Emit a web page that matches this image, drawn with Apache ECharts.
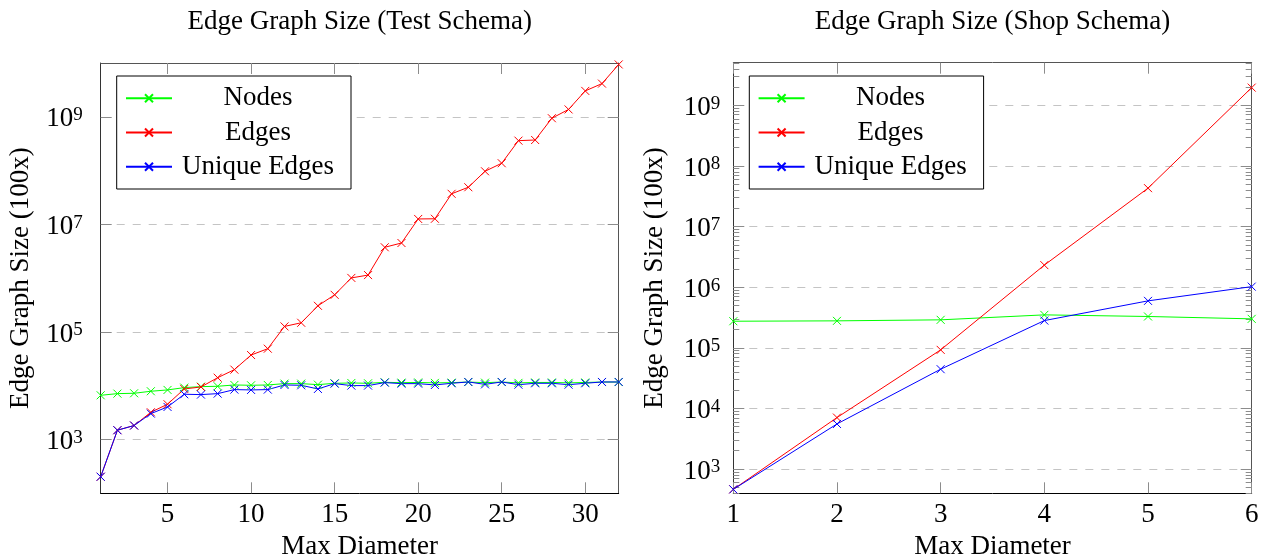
<!DOCTYPE html>
<html>
<head>
<meta charset="utf-8">
<title>Edge Graph Size</title>
<script src="https://cdn.jsdelivr.net/npm/echarts@6.0.0/dist/echarts.min.js"></script>
<style>
  html, body { margin: 0; padding: 0; background: #fff; }
  #chart { width: 1271px; height: 560px; }
</style>
</head>
<body>
<div id="chart"></div>
<script>
// --- data: Test Schema (left) ---
const diameterTest = [1, 2, 3, 4, 5, 6, 7, 8, 9, 10, 11, 12, 13, 14, 15, 16,
  17, 18, 19, 20, 21, 22, 23, 24, 25, 26, 27, 28, 29, 30, 31, 32]
const nodesTest = [6640, 7130, 7240, 7890, 8350, 9220, 9620, 9770, 10330, 10190, 10330,
  10940, 10940, 10470, 11100, 11250, 11100, 11580, 11400, 11500, 11300, 11400, 11700,
  11400, 11700, 11300, 11500, 11500, 11300, 11500, 11700, 11700]
const edgesTest = [203, 1490, 1820, 3210, 4530, 8710, 9480, 14100, 19900, 37200, 48800,
  126700, 148000, 306000, 490000, 1.01e6, 1.14e6, 3.75e6, 4.5e6, 1.26e7, 1.27e7, 3.7e7,
  4.9e7, 9.7e7, 1.37e8, 3.6e8, 3.7e8, 9.4e8, 1.37e9, 3.03e9, 4.14e9, 9.4e9]
const uniqueTest = [203, 1490, 1820, 3030, 4030, 6940, 6840, 7130, 8470, 8350, 8470,
  10330, 10190, 8710, 10940, 10050, 10050, 11420, 10940, 10940, 10330, 11100, 11750,
  10600, 11750, 10450, 11100, 11100, 10450, 11100, 11750, 11750]

// --- data: Shop Schema (right) ---
const diameterShop = [1, 2, 3, 4, 5, 6]
const nodesShop = [274000, 278000, 289000, 349000, 328000, 300000]
const edgesShop = [461, 7050, 92300, 2.31e6, 4.3e7, 1.96e9]
const uniqueShop = [461, 5530, 44300, 281000, 594000, 1.02e6]

// --- ticks ---
const testXTicks = [5, 10, 15, 20, 25, 30]
const testYTicks = [1e3, 1e5, 1e7, 1e9]
const shopXTicks = [1, 2, 3, 4, 5, 6]
const shopYTicks = [1e3, 1e4, 1e5, 1e6, 1e7, 1e8, 1e9]
const shopYMin = 397
const shopYMax = 5.05e9
const shopYMinor = []
for (let k = 2; k <= 9; k++) {
  for (let m = 2; m <= 9; m++) {
    const v = m * Math.pow(10, k)
    if (v > shopYMin && v < shopYMax) shopYMinor.push(v)
  }
}

const serif = '"Liberation Serif", "DejaVu Serif", serif'
const tickGray = '#8c8c8c'
const gridGray = '#c4c4c4'
const colors = { nodes: '#00ff00', edges: '#ff0000', unique: '#0000ff' }
const cross = 'path://M0,0L8,8M8,0L0,8'

// 10^n labels, exponent raised as a superscript
const supRich = {
  b: { fontFamily: serif, fontSize: 27, lineHeight: 27, color: '#000' },
  s: { fontFamily: serif, fontSize: 19, lineHeight: 12, verticalAlign: 'top', color: '#000' }
}
const powerLabel = (v) => '{b|10}{s|' + Math.round(Math.log10(v)) + '}'

const xAxisPair = (gridIndex, min, max, ticks, labels) => [
  {
    type: 'value', gridIndex, position: 'bottom', min, max,
    name: 'Max Diameter', nameLocation: 'middle', nameGap: 40,
    nameTextStyle: { fontFamily: serif, fontSize: 27, color: '#000' },
    axisLine: { show: true, onZero: false, lineStyle: { color: '#000', width: 1 } },
    axisTick: { show: true, inside: true, length: 11, customValues: ticks, lineStyle: { color: tickGray } },
    axisLabel: { customValues: labels, margin: 8, fontFamily: serif, fontSize: 27, color: '#000' },
    splitLine: { show: false }
  },
  {
    type: 'value', gridIndex, position: 'top', min, max,
    axisLine: { show: true, onZero: false, lineStyle: { color: '#555', width: 1 } },
    axisTick: { show: true, inside: true, length: 11, customValues: ticks, lineStyle: { color: tickGray } },
    axisLabel: { show: false },
    splitLine: { show: false }
  }
]

const yAxisMain = (gridIndex, min, max, ticks, margin, nameGap) => ({
  type: 'log', logBase: 10, gridIndex, position: 'left', min, max,
  name: 'Edge Graph Size (100x)', nameLocation: 'middle', nameGap, nameRotate: 90,
  nameMoveOverlap: false,
  nameTextStyle: { fontFamily: serif, fontSize: 27, color: '#000' },
  axisLine: { show: true, onZero: false, lineStyle: { color: '#333', width: 1 } },
  axisTick: { show: true, inside: true, length: 11, customValues: ticks, lineStyle: { color: tickGray } },
  axisLabel: { customValues: ticks, margin, padding: [5, 0, 0, 0], formatter: powerLabel, rich: supRich },
  minorTick: { show: false },
  splitLine: { show: true, lineStyle: { color: gridGray, width: 1, type: [8, 8] } }
})

const yAxisSide = (gridIndex, min, max, ticks, position, length, showLine) => ({
  type: 'log', logBase: 10, gridIndex, position, min, max,
  axisLine: { show: showLine, onZero: false, lineStyle: { color: '#555', width: 1 } },
  axisTick: { show: true, inside: true, length, customValues: ticks, lineStyle: { color: tickGray } },
  axisLabel: { show: false },
  minorTick: { show: false },
  splitLine: { show: false }
})

const makeSeries = (name, color, xs, ys, xAxisIndex, yAxisIndex) => ({
  name, type: 'line', xAxisIndex, yAxisIndex,
  data: xs.map((x, i) => [x, ys[i]]),
  symbol: cross, symbolSize: 8, showAllSymbol: true,
  lineStyle: { color, width: 1 },
  itemStyle: { color, borderColor: color, borderWidth: 1 },
  emphasis: { disabled: true },
  animation: false
})

const makeLegend = (left) => ({
  orient: 'vertical', left, top: 76,
  data: ['Nodes', 'Edges', 'Unique Edges'],
  itemWidth: 46, itemHeight: 10, itemGap: 7.3,
  padding: [8.7, 12, 8.7, 8.3],
  borderColor: '#000', borderWidth: 1, borderRadius: 0,
  backgroundColor: '#fff',
  selectedMode: false,
  formatter: (n) => '{t|' + n + '}',
  textStyle: {
    rich: { t: { width: 162, align: 'center', fontFamily: serif, fontSize: 27, lineHeight: 26, color: '#000' } }
  }
})

const titleStyle = { fontFamily: serif, fontSize: 27, fontWeight: 'normal', color: '#000' }

const chart = echarts.init(document.getElementById('chart'))

const option = {
  animation: false,
  backgroundColor: '#fff',
  title: [
    { text: 'Edge Graph Size (Test Schema)', left: 359.7, top: 8, textAlign: 'center', padding: 0, textStyle: titleStyle },
    { text: 'Edge Graph Size (Shop Schema)', left: 992.5, top: 8, textAlign: 'center', padding: 0, textStyle: titleStyle }
  ],
  legend: [makeLegend(116.7), makeLegend(749.3)],
  grid: [
    { left: 100.7, top: 63, width: 518, height: 430.3, outerBoundsMode: 'none' },
    { left: 733.3, top: 62.7, width: 518.4, height: 430.6, outerBoundsMode: 'none' }
  ],
  xAxis: [
    ...xAxisPair(0, 1, 32, testXTicks, testXTicks),
    ...xAxisPair(1, 1, 6, shopXTicks, shopXTicks)
  ],
  yAxis: [
    yAxisMain(0, 1e2, 1e10, testYTicks, 18, 66),
    yAxisSide(0, 1e2, 1e10, testYTicks, 'right', 11, true),
    yAxisMain(1, shopYMin, shopYMax, shopYTicks, 13, 65),
    yAxisSide(1, shopYMin, shopYMax, shopYMinor, 'left', 6, false),
    yAxisSide(1, shopYMin, shopYMax, shopYTicks, 'right', 11, true),
    yAxisSide(1, shopYMin, shopYMax, shopYMinor, 'right', 6, false)
  ],
  series: [
    makeSeries('Nodes', colors.nodes, diameterTest, nodesTest, 0, 0),
    makeSeries('Edges', colors.edges, diameterTest, edgesTest, 0, 0),
    makeSeries('Unique Edges', colors.unique, diameterTest, uniqueTest, 0, 0),
    makeSeries('Nodes', colors.nodes, diameterShop, nodesShop, 2, 2),
    makeSeries('Edges', colors.edges, diameterShop, edgesShop, 2, 2),
    makeSeries('Unique Edges', colors.unique, diameterShop, uniqueShop, 2, 2)
  ]
}

chart.setOption(option)
</script>
</body>
</html>
